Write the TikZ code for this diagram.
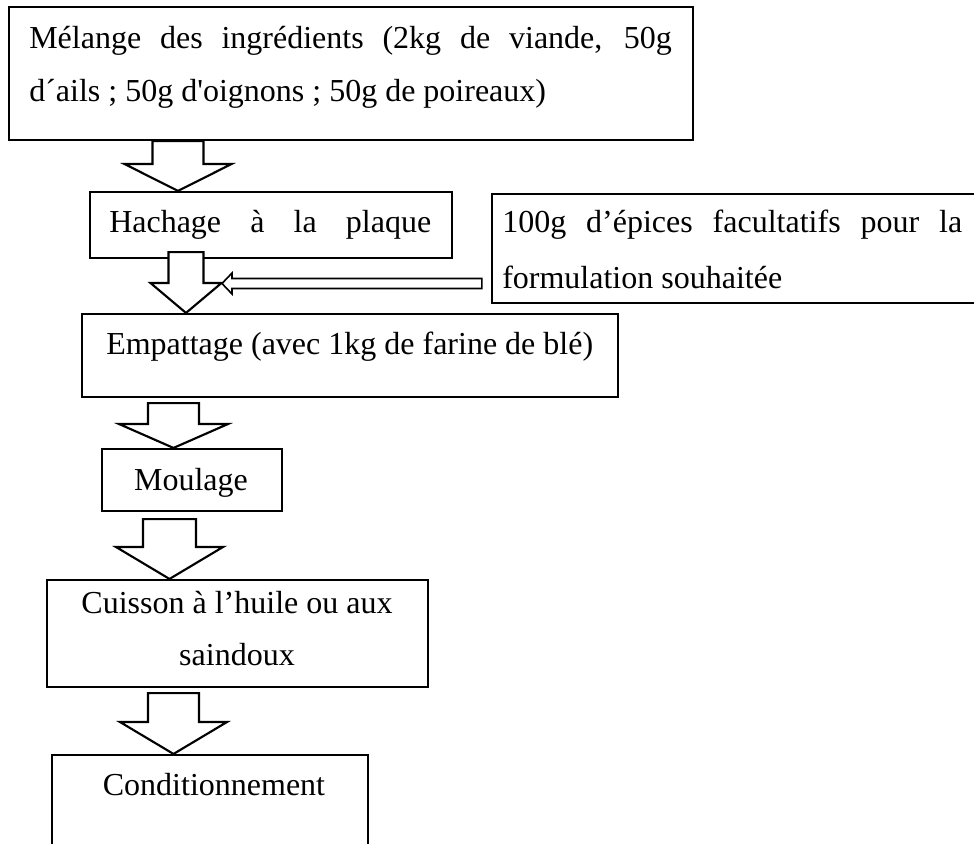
\documentclass[tikz,border=0pt]{standalone}
\usepackage{fontspec}
\setmainfont{Liberation Serif}[Ligatures=TeXOff]
\usetikzlibrary{fit,calc}

\tikzset{
  box/.style={draw, line width=1.6pt, inner sep=0pt},
  txt/.style={anchor=base west, inner sep=0pt, font=\fontsize{24}{30}\selectfont},
  ctxt/.style={anchor=base, inner sep=0pt, font=\fontsize{24}{30}\selectfont},
  blockarrow/.style={draw, line width=1.6pt, fill=white, line join=miter},
  sidearrow/.style={draw, line width=1.2pt, fill=white, line join=miter}
}

\begin{document}
\begin{tikzpicture}[x=0.75pt,y=0.75pt,yscale=-1,xscale=1]
\useasboundingbox (0,0) rectangle (974,843);
\clip (0,0) rectangle (974,843);

%Boxes
\node[box, fit={(9,7) (693,140)}] (melange) {};
\node[box, fit={(90,192) (452,258)}] (hachage) {};
\node[box, fit={(492,194) (990,303)}] (epices) {};
\node[box, fit={(82,314) (618,397)}] (empattage) {};
\node[box, fit={(102,449) (282,511)}] (moulage) {};
\node[box, fit={(47,580) (428,687)}] (cuisson) {};
\node[box, fit={(52,755) (368,870)}] (condit) {};

%Down Arrow melange -> hachage
\draw[blockarrow] (152.5,0 |- melange.south) -- (152.5,164) -- (124.5,164) -- (178,0 |- hachage.north) -- (231.5,164) -- (203.5,164) -- (203.5,0 |- melange.south) -- cycle;
%Down Arrow hachage -> empattage
\draw[blockarrow] ($(168.5,0 |- hachage.south)+(0,-7)$) -- (168.5,283) -- (150.5,283) -- (186,0 |- empattage.north) -- (221.5,283) -- (203.5,283) -- ($(203.5,0 |- hachage.south)+(0,-7)$) -- cycle;
%Left Arrow epices -> empattage
\draw[sidearrow] ($(epices.west |- 0,278.5)+(-9,0)$) -- (232,278.5) -- (232,273) -- (222,283.5) -- (232,294) -- (232,288.5) -- ($(epices.west |- 0,288.5)+(-9,0)$) -- cycle;
%Down Arrow empattage -> moulage
\draw[blockarrow] ($(148,0 |- empattage.south)+(0,5)$) -- (148,424) -- (119,424) -- (173.5,0 |- moulage.north) -- (228,424) -- (199,424) -- ($(199,0 |- empattage.south)+(0,5)$) -- cycle;
%Down Arrow moulage -> cuisson
\draw[blockarrow] ($(143,0 |- moulage.south)+(0,7)$) -- (143,547) -- (116,547) -- (169.5,0 |- cuisson.north) -- (223,547) -- (196,547) -- ($(196,0 |- moulage.south)+(0,7)$) -- cycle;
%Down Arrow cuisson -> condit
\draw[blockarrow] ($(148,0 |- cuisson.south)+(0,5)$) -- (148,722) -- (120,722) -- (173.5,0 |- condit.north) -- (227,722) -- (199,722) -- ($(199,0 |- cuisson.south)+(0,5)$) -- cycle;

% Text Node
\node[txt] (tmel1) at (29,48) {\makebox[482pt][s]{Mélange des ingrédients (2kg de viande, 50g}};
% Text Node
\node[txt] (tmel2) at (29,101) {d´ails ; 50g d'oignons ; 50g de poireaux)};
% Text Node
\node[txt] (thach) at (109,232) {\makebox[241.5pt][s]{Hachage à la plaque}};
% Text Node
\node[txt] (tepi1) at (502,232) {\makebox[345pt][s]{100g d’épices facultatifs pour la}};
% Text Node
\node[txt] (tepi2) at (502,288) {formulation souhaitée};
% Text Node
\node[txt] (temp) at (106,354) {Empattage (avec 1kg de farine de blé)};
% Text Node
\node[ctxt] (tmou) at (191,490) {Moulage};
% Text Node
\node[ctxt] (tcui1) at (237,613) {Cuisson à l’huile ou aux};
% Text Node
\node[ctxt] (tcui2) at (237,665) {saindoux};
% Text Node
\node[ctxt] (tcon) at (214,795) {Conditionnement};

\end{tikzpicture}
\end{document}
